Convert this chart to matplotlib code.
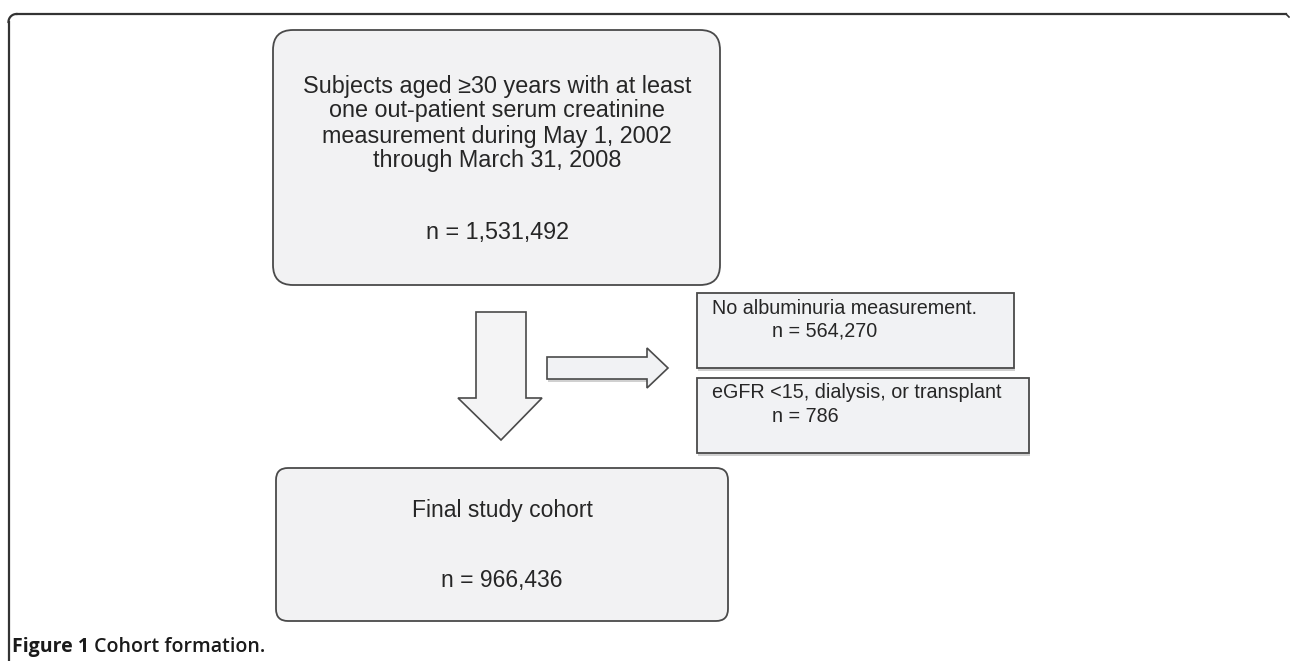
import matplotlib
matplotlib.use("Agg")
import matplotlib.pyplot as plt
import numpy as np
from matplotlib.patches import FancyBboxPatch, Polygon, Rectangle
from matplotlib.lines import Line2D

# ---- content ----
top_lines = ["Subjects aged \u226530 years with at least",
             "one out-patient serum creatinine",
             "measurement during May 1, 2002",
             "through March 31, 2008"]
top_n = "n = 1,531,492"
excl_titles = ["No albuminuria measurement.", "eGFR <15, dialysis, or transplant"]
excl_n = ["n = 564,270", "n = 786"]
final_title = "Final study cohort"
final_n = "n = 966,436"
caption_bold = "Figure 1"
caption_rest = " Cohort formation."

W, H = 1290, 661
fig = plt.figure(figsize=(W / 100, H / 100), dpi=100)
ax = fig.add_axes([0, 0, 1, 1])
ax.set_xlim(0, W)
ax.set_ylim(H, 0)
ax.axis("off")

FONT = "Liberation Sans"
TXT = "#262626"
EDGE = "#4a4a4a"
FILL = "#f2f2f3"
FILL2 = "#f1f2f4"

# outer frame (open at bottom/right)
r = 8
fx, fy = 8.5, 14
ax.add_line(Line2D([fx, fx], [fy + r, H], color="#333333", lw=1.6))
ax.add_line(Line2D([fx + r, 1286], [fy, fy], color="#333333", lw=1.6))
t = np.linspace(np.pi, 1.5 * np.pi, 20)
ax.add_line(Line2D(fx + r + r * np.cos(t), fy + r + r * np.sin(t), color="#333333", lw=1.6))
ax.add_line(Line2D([1286, 1289], [fy, fy + 3], color="#333333", lw=1.2))

def rbox(x0, y0, x1, y1, rad, fill):
    p = FancyBboxPatch((x0, y0), x1 - x0, y1 - y0,
                       boxstyle=f"round,pad=0,rounding_size={rad}",
                       fc=fill, ec=EDGE, lw=1.3, zorder=2)
    ax.add_patch(p)

# top box
rbox(273, 30, 720, 285, 20, FILL)
cx = 497
for i, s in enumerate(top_lines):
    ax.text(cx, 86 + i * 25, s, ha="center", va="center", fontsize=16.8,
            family=FONT, color=TXT, zorder=3)
ax.text(cx, 232, top_n, ha="center", va="center", fontsize=16.8,
        family=FONT, color=TXT, zorder=3)

# bottom box
rbox(276, 468, 728, 621, 12, FILL)
ax.text(502, 511, final_title, ha="center", va="center", fontsize=16.5,
        family=FONT, color=TXT, zorder=3)
ax.text(502, 580, final_n, ha="center", va="center", fontsize=16.5,
        family=FONT, color=TXT, zorder=3)

# exclusion boxes
ex_boxes = [(697, 293, 1014, 368), (697, 378, 1029, 453)]
for (x0, y0, x1, y1), t1, t2 in zip(ex_boxes, excl_titles, excl_n):
    ax.add_patch(Rectangle((x0 + 1, y1), x1 - x0, 2.5, fc="#bdbdbd", ec="none", alpha=0.7, zorder=1))
    ax.add_patch(Rectangle((x0, y0), x1 - x0, y1 - y0, fc=FILL2, ec=EDGE, lw=1.3, zorder=2))
    ax.text(712, y0 + 15, t1, ha="left", va="center", fontsize=14.2,
            family=FONT, color=TXT, zorder=3)
    ax.text(772, y0 + 38, t2, ha="left", va="center", fontsize=14.2,
            family=FONT, color=TXT, zorder=3)

# down arrow
down = [(476, 312), (526, 312), (526, 398), (542, 398), (501, 440),
        (458, 398), (476, 398)]
ax.add_patch(Polygon(down, closed=True, fc="#f4f4f5", ec=EDGE, lw=1.2, zorder=2))

# right arrow
ax.add_patch(Rectangle((548, 379), 99, 2.5, fc="#bdbdbd", ec="none", alpha=0.7, zorder=1))
right = [(547, 357), (647, 357), (647, 348), (668, 368), (647, 388),
         (647, 379), (547, 379)]
ax.add_patch(Polygon(right, closed=True, fc=FILL2, ec=EDGE, lw=1.2, zorder=2))

# caption
tcap = ax.text(12, 647, caption_bold, ha="left", va="center", fontsize=14,
               family="Open Sans", weight="bold", color="#1a1a1a")
fig.canvas.draw()
bb = tcap.get_window_extent()
xd = ax.transData.inverted().transform((bb.x1, 0))[0]
ax.text(xd, 647, caption_rest, ha="left", va="center", fontsize=14,
        family="Open Sans", weight="semibold", color="#1a1a1a")

fig.savefig("out.png", dpi=100, facecolor="white")
